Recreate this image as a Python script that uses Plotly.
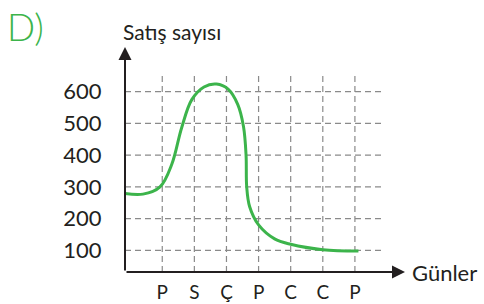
import plotly.graph_objects as go

# ---- data ----
days = ["P", "S", "Ç", "P", "C", "C", "P"]
day_pos = [0, 1, 2, 3, 4, 5, 6]
y_ticks = [100, 200, 300, 400, 500, 600]

# sales curve (x in day units, P = 0)
curve_x = [-1.16, -0.6, -0.07, 0.3, 0.6, 0.92, 1.3, 1.69, 2.05, 2.35, 2.53,
           2.61, 2.63, 2.72, 3.0, 3.5, 4.0, 5.0, 6.11]
curve_y = [279, 277, 300, 372, 485, 575, 615, 624, 608, 560, 490,
           400, 300, 238, 180, 136, 119, 102, 98]

x_min, x_max = -1.16, 7.56
y_min, y_max = 31.5, 741
grid_x_end = 6.83
grid_y_top = 652

FONT = "Lato, 'Open Sans', sans-serif"
TXT = "#231f20"
GREEN = "#3cb44b"
GRID = "#8a8a8a"

fig = go.Figure()

# dashed grid
for yv in y_ticks:
    fig.add_trace(go.Scatter(x=[x_min, grid_x_end], y=[yv, yv], mode="lines",
                             line=dict(color=GRID, width=1.2, dash="6px,4px"),
                             hoverinfo="skip", showlegend=False))
for xv in day_pos:
    fig.add_trace(go.Scatter(x=[xv, xv], y=[y_min, grid_y_top], mode="lines",
                             line=dict(color=GRID, width=1.2, dash="6px,4px"),
                             hoverinfo="skip", showlegend=False))

# curve
fig.add_trace(go.Scatter(x=curve_x, y=curve_y, mode="lines",
                         line=dict(color=GREEN, width=3, shape="spline", smoothing=1.0),
                         hoverinfo="skip", showlegend=False))

# axes arrows
fig.add_annotation(x=x_max, y=y_min, ax=x_min, ay=y_min, xref="x", yref="y",
                   axref="x", ayref="y", showarrow=True, arrowhead=2, arrowsize=1.3,
                   arrowwidth=2, arrowcolor=TXT, text="")
fig.add_annotation(x=x_min, y=y_max, ax=x_min, ay=y_min, xref="x", yref="y",
                   axref="x", ayref="y", showarrow=True, arrowhead=2, arrowsize=1.3,
                   arrowwidth=2, arrowcolor=TXT, text="")

# labels
W, H = 280.0, 225.0
def px(xp):
    return (xp - 125) / W
def py(yp):
    return (271.7 - yp) / H

fig.add_annotation(x=px(171.7), y=py(31), xref="paper", yref="paper", text="Satış sayısı",
                   showarrow=False, xanchor="center", yanchor="middle",
                   font=dict(family=FONT, size=21, color=TXT))
fig.add_annotation(x=px(410), y=py(271.7), xref="paper", yref="paper", text="Günler",
                   showarrow=False, xanchor="left", yanchor="middle",
                   font=dict(family=FONT, size=22, color=TXT))
fig.add_annotation(x=px(5), y=py(26), xref="paper", yref="paper", text="D)",
                   showarrow=False, xanchor="left", yanchor="middle",
                   font=dict(family=FONT, size=37, color=GREEN, weight=300))

fig.update_layout(
    width=484, height=304, autosize=False,
    margin=dict(l=125, r=79, t=47, b=32, autoexpand=False),
    paper_bgcolor="white", plot_bgcolor="white",
    xaxis=dict(range=[x_min, x_max], tickvals=day_pos, ticktext=days,
               showgrid=False, zeroline=False, showline=False,
               ticks="outside", ticklen=3, tickcolor="rgba(0,0,0,0)",
               tickfont=dict(family=FONT, size=19, color=TXT), fixedrange=True),
    yaxis=dict(range=[y_min, y_max], tickvals=y_ticks,
               showgrid=False, zeroline=False, showline=False,
               ticks="outside", ticklen=18, tickcolor="rgba(0,0,0,0)",
               tickfont=dict(family=FONT, size=22, color=TXT), fixedrange=True),
)

fig.write_html("out.html", config={"displayModeBar": False, "responsive": False},
               post_script="document.body.style.margin='0';document.body.style.overflow='hidden';")
